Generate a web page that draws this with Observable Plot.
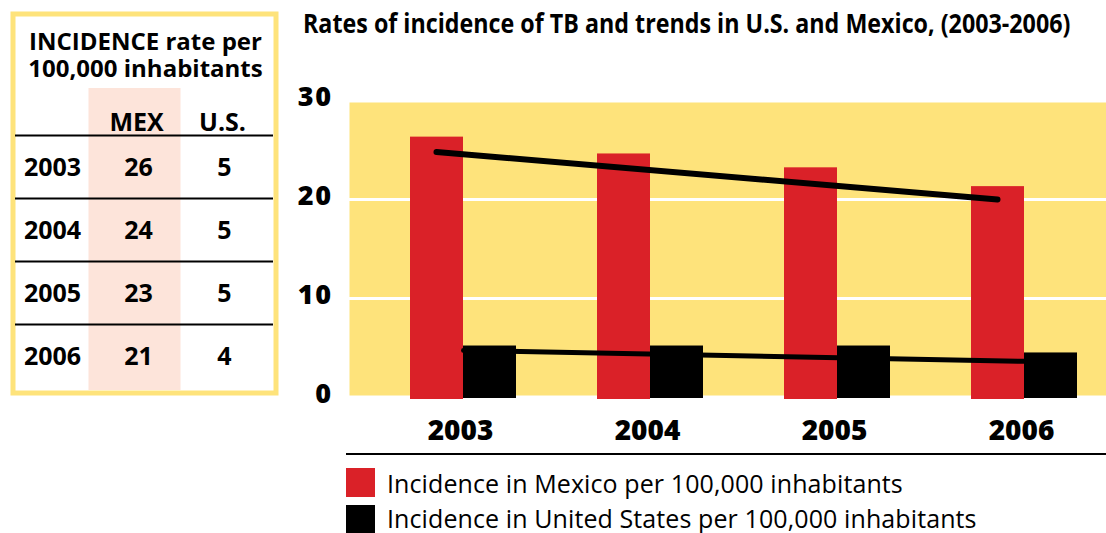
<!DOCTYPE html>
<html><head><meta charset="utf-8">
<script src="https://cdn.jsdelivr.net/npm/d3@7"></script>
<script src="https://cdn.jsdelivr.net/npm/@observablehq/plot@0.6"></script>
<style>
html,body{margin:0;padding:0;background:#fff;}
body{width:1106px;height:533px;overflow:hidden;position:relative;font-family:"Open Sans",sans-serif;color:#000;}
#table{position:absolute;left:0;top:0;}
#chart{position:absolute;left:290px;top:0;}
#title{position:absolute;left:303px;top:10px;font-weight:700;font-size:26px;line-height:26px;white-space:nowrap;transform:scaleX(0.895);transform-origin:0 0;}
#sep{position:absolute;left:346px;top:453px;width:760px;height:2px;background:#000;}
.sw{position:absolute;left:346px;width:29px;height:29px;}
.lt{position:absolute;left:387px;font-size:25px;line-height:25px;white-space:nowrap;letter-spacing:0.1px;}
</style></head><body>
<div id="table"></div>
<div id="title"></div>
<div id="chart"></div>
<div id="sep"></div>
<div id="legend"></div>
<script>
// ---- data ----
const years = [2003, 2004, 2005, 2006];
const mexico = [26.3, 24.6, 23.2, 21.3];      // bar heights
const us = [5.2, 5.2, 5.2, 4.5];
const mexTable = [26, 24, 23, 21];            // table values
const usTable = [5, 5, 5, 4];
const trendYears = [2003, 2006];
const mexTrend = [24.8, 20.0];
const usTrend = [4.75, 3.65];
const yTicks = [0, 10, 20, 30];
const gridValues = [10, 20];
const tableColumns = ["year", "MEX", "U.S."];
const tableTitle = "INCIDENCE rate per\n100,000 inhabitants";
const chartTitle = "Rates of incidence of TB and trends in U.S. and Mexico, (2003-2006)";
const seriesNames = ["Incidence in Mexico per 100,000 inhabitants", "Incidence in United States per 100,000 inhabitants"];
const seriesColors = ["#da2128", "#000000"];
const yellow = "#fee37b";
const pink = "#fde4da";

const data = years.map((year, i) => ({year, mex: mexico[i], us: us[i]}));
const tableData = years.map((year, i) => ({year, mex: mexTable[i], us: usTable[i]}));
const mexTrendData = trendYears.map((year, i) => ({year, v: mexTrend[i]}));
const usTrendData = trendYears.map((year, i) => ({year, v: usTrend[i]}));

// ---- table ----
const boldText = {fontWeight: 700, fontSize: 25, fill: "#000"};
const tablePlot = Plot.plot({
  width: 290, height: 400, margin: 0,
  style: {fontFamily: "Open Sans", background: "transparent", overflow: "visible"},
  x: {type: "point", domain: tableColumns, range: [52, 224], padding: 0, axis: null},
  y: {type: "point", domain: years, range: [165.5, 357], padding: 0, axis: null},
  marks: [
    Plot.ruleX(["MEX"], {x: d => d, stroke: pink, strokeWidth: 92, insetTop: 88, insetBottom: 10, dx: -4}),
    Plot.frame({stroke: yellow, strokeWidth: 5, insetLeft: 12.5, insetTop: 13.5, insetRight: 14.5, insetBottom: 7.5}),
    Plot.ruleY(years, {y: d => d, stroke: "#000", strokeWidth: 2, dy: -32, insetLeft: 15, insetRight: 17}),
    Plot.text([tableTitle], {frameAnchor: "top", lineAnchor: "top", dy: 30, lineHeight: 1.125, fontSize: 24, fontWeight: 700, fill: "#000"}),
    Plot.text(tableColumns.slice(1), {x: d => d, frameAnchor: "top", dy: 113, dx: -2, ...boldText}),
    Plot.text(tableData, {x: () => "year", y: "year", text: d => String(d.year), ...boldText}),
    Plot.text(tableData, {x: () => "MEX", y: "year", text: d => String(d.mex), ...boldText}),
    Plot.text(tableData, {x: () => "U.S.", y: "year", text: d => String(d.us), ...boldText})
  ]
});
document.getElementById("table").append(tablePlot);

// ---- chart ----
document.getElementById("title").textContent = chartTitle;
const chart = Plot.plot({
  width: 816, height: 460,
  marginLeft: 59, marginRight: 0, marginTop: 100, marginBottom: 63,
  style: {fontFamily: "Open Sans", background: "transparent", overflow: "visible", color: "#000"},
  x: {type: "band", domain: years, paddingInner: 0.435, paddingOuter: 0.234, align: 0.67},
  y: {domain: [0, 30]},
  marks: [
    Plot.frame({fill: yellow, stroke: "none", insetTop: 2, insetBottom: 2}),
    Plot.ruleY(gridValues, {stroke: "white", strokeWidth: 3}),
    Plot.barY(data, {x: "year", y: "mex", fill: seriesColors[0], insetRight: 53, insetBottom: -2}),
    Plot.line(mexTrendData, {x: "year", y: "v", stroke: "#000", strokeWidth: 6, strokeLinecap: "round", dx: -27}),
    Plot.line(usTrendData, {x: "year", y: "v", stroke: "#000", strokeWidth: 5, strokeLinecap: "round"}),
    Plot.barY(data, {x: "year", y: "us", fill: seriesColors[1], insetLeft: 53, insetBottom: -1}),
    Plot.axisY({ticks: yTicks, tickSize: 0, tickPadding: 17, fontSize: 27, fontWeight: 800, dy: -3, label: null, tickFormat: d => String(d)}),
    Plot.axisX({tickSize: 0, tickPadding: 23, fontSize: 28, fontWeight: 800, dx: -3, label: null, tickFormat: d => String(d)})
  ]
});
d3.select(chart).selectAll("g[aria-label='y-axis tick label'] text").style("letter-spacing", "1.5px");
document.getElementById("chart").append(chart);

// ---- legend ----
const legend = document.getElementById("legend");
const swTops = [468, 505];
const textTops = [471, 506];
seriesNames.forEach((name, i) => {
  const sw = document.createElement("div");
  sw.className = "sw"; sw.style.top = swTops[i] + "px"; sw.style.background = seriesColors[i];
  const t = document.createElement("div");
  t.className = "lt"; t.style.top = textTops[i] + "px"; t.textContent = name;
  legend.append(sw, t);
});
</script>
</body></html>
